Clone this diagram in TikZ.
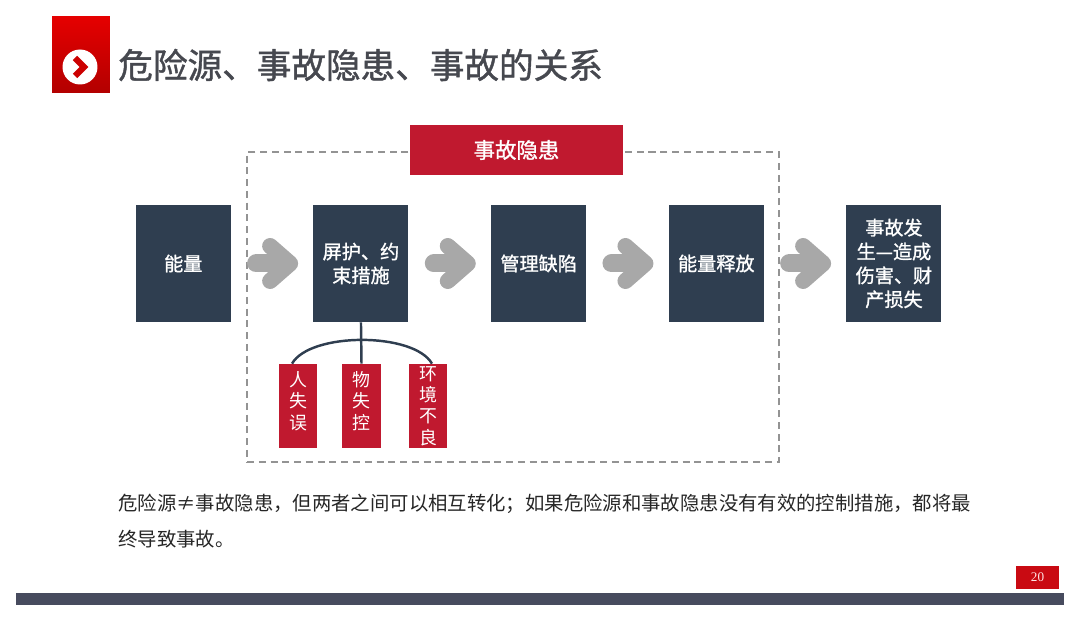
\documentclass[tikz,border=0pt]{standalone}
\usepackage{fontspec}
\setmainfont{Noto Sans CJK SC}
\newfontfamily\titlefont[FakeBold=1.2]{Noto Sans CJK SC}
\newfontfamily\numfont{Liberation Serif}
\usetikzlibrary{arrows.meta, positioning}
\definecolor{navy}{HTML}{2F3E50}
\definecolor{crimson}{HTML}{C0192F}
\definecolor{pagered}{HTML}{C90A12}
\definecolor{slatebar}{HTML}{474B5E}
\definecolor{flowgray}{HTML}{A8A8A8}
\definecolor{titlegray}{HTML}{46484F}

\begin{document}
\begin{tikzpicture}[
    x=0.02cm, y=-0.02cm,
    node distance=1.64cm,
    stage/.style={rectangle, fill=navy, text=white, align=center, minimum width=1.9cm, minimum height=2.34cm, inner sep=1pt, font=\fontsize{10.9pt}{13.6pt}\titlefont},
    cause/.style={rectangle, fill=crimson, text=white, align=center, minimum width=0.78cm, minimum height=1.68cm, inner sep=0pt, font=\fontsize{10.2pt}{12.2pt}\selectfont},
    flow/.style={draw=flowgray, line width=0.36cm, line cap=round, shorten <=0.5cm, shorten >=0.3cm, -{Straight Barb[round, length=0.4cm, width=0.7cm, line width=0.32cm]}},
    link/.style={draw=navy, line width=1.4pt}
]
\useasboundingbox (0,0) rectangle (1080,621);

% header
\node[rectangle, minimum width=1.16cm, minimum height=1.54cm, top color=red!90!black, bottom color=red!70!black, inner sep=0pt] (badge) at (81,54.5) {};
\node[circle, fill=white, minimum size=0.7cm, inner sep=0pt] (badgedot) at (80,67) {};
\draw[draw=red!80!black, line width=3.6pt] (75,58) -- (84,67) -- (75,76);
\node[anchor=west, inner sep=0pt, text=titlegray, font=\fontsize{19.7pt}{24pt}\titlefont] (title) at (118,65) {危险源、事故隐患、事故的关系};

% frame
\node[rectangle, draw=gray!85, dash pattern=on 4pt off 2.7pt, line width=0.8pt, minimum width=10.64cm, minimum height=6.2cm] (hazard) at (513,307) {};
\node[rectangle, fill=crimson, text=white, minimum width=4.26cm, minimum height=1cm, inner sep=0pt, font=\fontsize{12.2pt}{14pt}\titlefont] (hazardtag) at (516.5,150) {\raisebox{1pt}{事故隐患}};

% chain
\node[stage] (energy) at (183.3,263.5) {\raisebox{0.5pt}{能量}};
\node[stage, right=of energy] (shield) {屏护、约\\束措施};
\node[stage, right=of shield] (flaw) {\raisebox{0.5pt}{管理缺陷}};
\node[stage, right=of flaw] (release) {\raisebox{0.5pt}{能量释放}};
\node[stage, right=of release] (accident) {事故发\\生—造成\\伤害、财\\产损失};

\draw[flow] (energy) -- (shield);
\draw[flow] (shield) -- (flaw);
\draw[flow] (flaw) -- (release);
\draw[flow] (release) -- (accident);

% causes
\node[cause] (human) at (298,406) {人\\失\\误\\[-0.2cm]\mbox{}};
\node[cause] (object) at (361.5,406) {物\\失\\控\\[-0.2cm]\mbox{}};
\node[cause] (place) at (428,406) {环\\境\\不\\良};

\draw[link] (shield.south) -- (object.north);
\draw[link] ([xshift=-0.12cm]human.north) to[out=60, in=120, looseness=0.67] ([xshift=0.08cm]place.north);

% note
\node[anchor=north west, inner sep=0pt, align=left, text=black!85, font=\fontsize{11.03pt}{20.5pt}\selectfont] (note) at (118,494) {危险源≠事故隐患，但两者之间可以相互转化；如果危险源和事故隐患没有有效的控制措施，都将最\\终导致事故。};

% footer
\node[rectangle, fill=pagered, text=white!90!red, minimum width=0.86cm, minimum height=0.46cm, inner sep=0pt, font=\fontsize{7.5pt}{9pt}\numfont] (page) at (1037.5,577.5) {20};
\node[rectangle, fill=slatebar, minimum width=20.96cm, minimum height=0.24cm, inner sep=0pt] (bar) at (540,599) {};
\end{tikzpicture}
\end{document}
